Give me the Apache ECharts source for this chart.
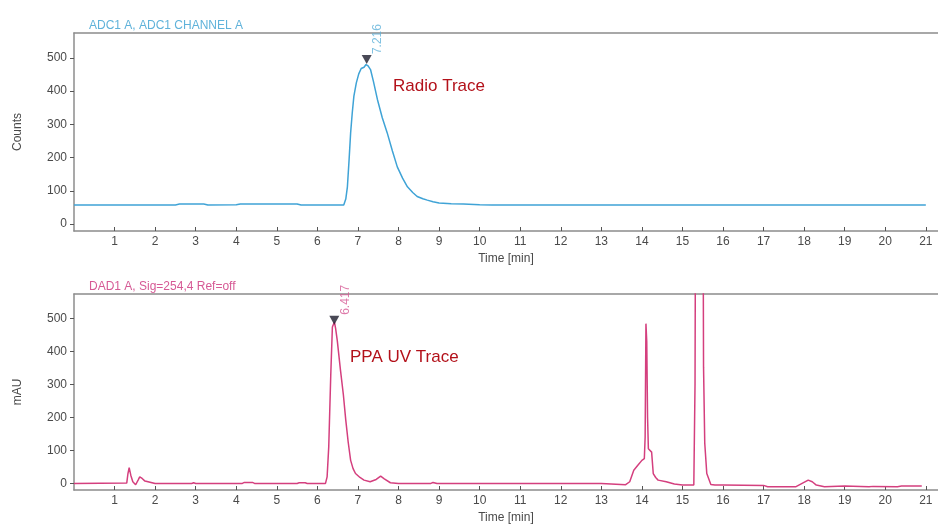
<!DOCTYPE html>
<html>
<head>
<meta charset="utf-8">
<script src="https://cdn.jsdelivr.net/npm/echarts@6/dist/echarts.min.js"></script>
<style>
html,body{margin:0;padding:0;background:#fff;}
#chart{width:938px;height:527px;}
</style>
</head>
<body>
<div id="chart"></div>
<script>
// ---- Data ----
var timeTicks = [1,2,3,4,5,6,7,8,9,10,11,12,13,14,15,16,17,18,19,20,21];
var yTicks = [0,100,200,300,400,500];

var radioTime = [0,2.5,2.6,3.2,3.3,4.0,4.1,5.5,5.6,6.65,6.7,6.74,6.78,6.82,6.86,6.9,6.96,7.02,7.08,7.15,7.2,7.25,7.31,7.38,7.48,7.6,7.72,7.85,7.97,8.1,8.22,8.35,8.46,8.6,8.71,8.85,9.0,9.3,9.6,10.0,10.3,21.0];
var radioCounts = [57,57,60,60,57,58,60,60,57,57,75,112,190,275,335,385,425,452,468,472,480,476,465,430,375,320,275,220,172,138,112,95,83,76,72,67,63,61,60,58,57,57];

var uvTime = [0,1.3,1.33,1.36,1.4,1.45,1.52,1.58,1.62,1.68,1.75,1.9,2.0,2.9,2.95,3.0,4.15,4.2,4.4,4.45,5.5,5.55,5.7,5.75,6.2,6.24,6.28,6.33,6.37,6.42,6.45,6.49,6.57,6.64,6.7,6.76,6.82,6.88,6.94,7.05,7.15,7.3,7.45,7.56,7.65,7.8,8.0,8.8,8.85,8.95,13.0,13.02,13.6,13.7,13.8,13.9,14.0,14.06,14.08,14.1,14.12,14.14,14.16,14.2,14.24,14.28,14.34,14.4,14.6,14.8,15.0,15.28,15.31,15.33,15.5,15.52,15.55,15.6,15.7,15.8,16.0,17.0,17.1,17.8,17.95,18.1,18.2,18.3,18.5,19.0,19.6,19.7,20.3,20.4,20.9];
var uvMAU = [0,1,30,48,25,5,-4,10,20,15,7,3,0,0,2,0,0,3,3,0,0,2,2,0,0,20,111,330,475,490,470,434,343,270,192,125,70,45,30,18,10,5,12,22,14,2,0,0,3,0,0,-4,-4,5,40,55,70,75,140,485,430,200,105,100,95,30,18,10,5,-2,-5,-5,300,1200,1200,353,122,30,-3,-5,-5,-6,-10,-10,0,10,5,-5,-10,-8,-10,-9,-10,-8,-8];

var peakTimes = [7.216, 6.417];
var peakValues = [495, 495];
var peakLabels = ['7.216', '6.417'];

function pairs(xs, ys){ return xs.map(function(x,i){ return [x, ys[i]]; }); }

var FONT = 'Liberation Sans, Arial, sans-serif';
var AXIS_COLOR = '#8c8c8c';
var LABEL_COLOR = '#4a4a4a';
var BLUE = '#3fa3d6';
var PINK = '#d43f7e';

function xAxisMain(gridIndex){
  return {
    type:'value', gridIndex:gridIndex, min:0, max:21.3,
    name:'Time [min]', nameLocation:'middle', nameGap:22,
    nameTextStyle:{color:LABEL_COLOR, fontSize:12, fontFamily:FONT},
    axisLine:{show:true, onZero:false, lineStyle:{color:AXIS_COLOR, width:1.5}},
    axisTick:{show:true, inside:true, length:4, customValues:timeTicks, lineStyle:{color:'#555'}},
    axisLabel:{show:true, customValues:timeTicks, color:LABEL_COLOR, fontSize:12, fontFamily:FONT, margin:5},
    splitLine:{show:false}
  };
}
function xAxisTop(gridIndex){
  return {
    type:'value', gridIndex:gridIndex, min:0, max:21.3, position:'top',
    axisLine:{show:true, onZero:false, lineStyle:{color:AXIS_COLOR, width:1.5}},
    axisTick:{show:false}, axisLabel:{show:false}, splitLine:{show:false}
  };
}
function yAxis(gridIndex, name, min){
  return {
    type:'value', gridIndex:gridIndex, min:min, max:575,
    name:name, nameLocation:'middle', nameGap:50,
    nameTextStyle:{color:LABEL_COLOR, fontSize:12, fontFamily:FONT},
    axisLine:{show:true, onZero:false, lineStyle:{color:AXIS_COLOR, width:1.5}},
    axisTick:{show:true, inside:false, length:4, customValues:yTicks, lineStyle:{color:'#555'}},
    axisLabel:{show:true, customValues:yTicks, color:LABEL_COLOR, fontSize:12, fontFamily:FONT, margin:7},
    splitLine:{show:false}
  };
}
function peakSeries(idx, xi, yi, color){
  return {
    type:'scatter', xAxisIndex:xi, yAxisIndex:yi,
    data:[[peakTimes[idx], peakValues[idx]]],
    symbol:'triangle', symbolRotate:180, symbolSize:[10,9],
    itemStyle:{color:'#1c1c2c'},
    label:{show:true, formatter:peakLabels[idx], rotate:90, position:[16,-1],
      align:'left', verticalAlign:'middle', color:color, fontSize:12, fontFamily:FONT},
    z:5, silent:true
  };
}

var chart = echarts.init(document.getElementById('chart'), null, {renderer:'canvas'});
chart.setOption({
  backgroundColor:'#ffffff',
  animation:false,
  textStyle:{fontFamily:FONT},
  title:[
    {text:'ADC1 A, ADC1 CHANNEL A', left:84, top:15, textStyle:{color:'#5fb2da', fontSize:12, fontWeight:'normal', fontFamily:FONT}},
    {text:'DAD1 A, Sig=254,4 Ref=off', left:84, top:276, textStyle:{color:'#d65a95', fontSize:12, fontWeight:'normal', fontFamily:FONT}}
  ],
  graphic:[
    {type:'text', left:393, top:78, style:{text:'Radio Trace', fill:'#b3111a', font:'17px ' + FONT}},
    {type:'text', left:350, top:349, style:{text:'PPA UV Trace', fill:'#b3111a', font:'17px ' + FONT}}
  ],
  grid:[
    {left:74, top:33, right:0, height:198},
    {left:74, top:294, right:0, height:196}
  ],
  xAxis:[xAxisMain(0), xAxisTop(0), xAxisMain(1), xAxisTop(1)],
  yAxis:[yAxis(0,'Counts',-21), yAxis(1,'mAU',-20)],
  series:[
    {type:'line', xAxisIndex:0, yAxisIndex:0, data:pairs(radioTime, radioCounts),
      showSymbol:false, lineStyle:{color:BLUE, width:1.5}, clip:true},
    {type:'line', xAxisIndex:2, yAxisIndex:1, data:pairs(uvTime, uvMAU),
      showSymbol:false, lineStyle:{color:PINK, width:1.5}, clip:true},
    peakSeries(0, 0, 0, '#5fb2da'),
    peakSeries(1, 2, 1, '#d65a95')
  ]
});
</script>
</body>
</html>
